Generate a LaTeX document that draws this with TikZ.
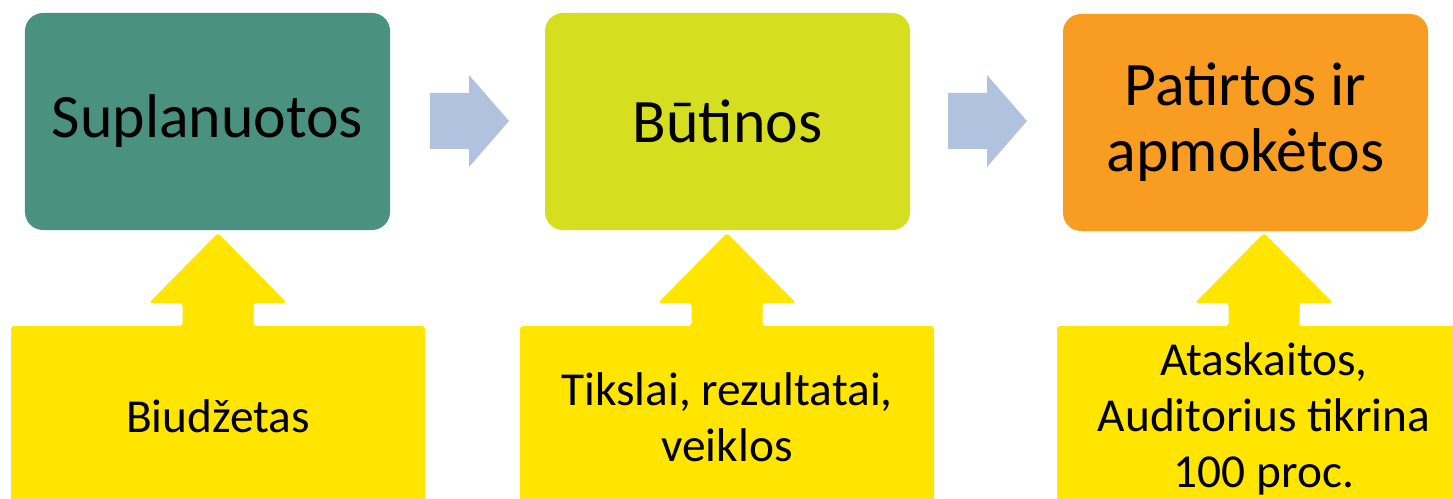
\documentclass[tikz,border=0pt]{standalone}
\usepackage{fontspec}
\setmainfont{Carlito}
\definecolor{teal1}{HTML}{4A9180}
\definecolor{lime1}{HTML}{D6DF1F}
\definecolor{orange1}{HTML}{F89D21}
\definecolor{yell1}{HTML}{FFE500}
\definecolor{arrowblue}{HTML}{B0C2DE}
\tikzset{
  topbox/.style={minimum width=365bp, minimum height=217bp, rounded corners=18bp, inner sep=0pt, align=center, font=\fontsize{62}{66}\selectfont},
  calltext/.style={align=center, font=\fontsize{47.5}{56}\selectfont, inner sep=0pt},
  blockarrow/.style={fill=arrowblue},
  callout/.style={fill=yell1, rounded corners=3bp},
}
\begin{document}
\begin{tikzpicture}[x=1bp,y=-1bp]
\useasboundingbox (0,0) rectangle (1453,499);
\clip (0,0) rectangle (1453,499);
% top boxes
\node[topbox, fill=teal1] (b1) at (207.5,121.5) {Suplanuotos};
\node[topbox, fill=lime1] (b2) at (727.5,121.5) {Būtinos};
\node[topbox, fill=orange1] (b3) at (1245.5,122.5) {Patirtos ir\\apmokėtos};
% right block arrows
\foreach \x in {430,948} {
  \fill[blockarrow] (\x,93) -- (\x+39,93) -- (\x+39,75) -- (\x+79,121) -- (\x+39,167) -- (\x+39,149) -- (\x,149) -- cycle;
}
% callouts
\foreach \cx/\nm in {218/c1,727/c2,1264/c3} {
  \fill[callout] (\cx-207,510) -- (\cx-207,326) -- (\cx-35.5,326) -- (\cx-35.5,303) -- (\cx-69,303) -- (\cx,233) -- (\cx+69,303) -- (\cx+35.5,303) -- (\cx+35.5,326) -- (\cx+207,326) -- (\cx+207,510) -- cycle;
}
\node[calltext] (t1) at (218,416) {Biudžetas};
\node[calltext] (t2) at (727,417) {Tikslai, rezultatai,\\veiklos};
\node[calltext] (t3) at (1264,419) {Ataskaitos,\\Auditorius tikrina\\100 proc.};
\end{tikzpicture}
\end{document}
